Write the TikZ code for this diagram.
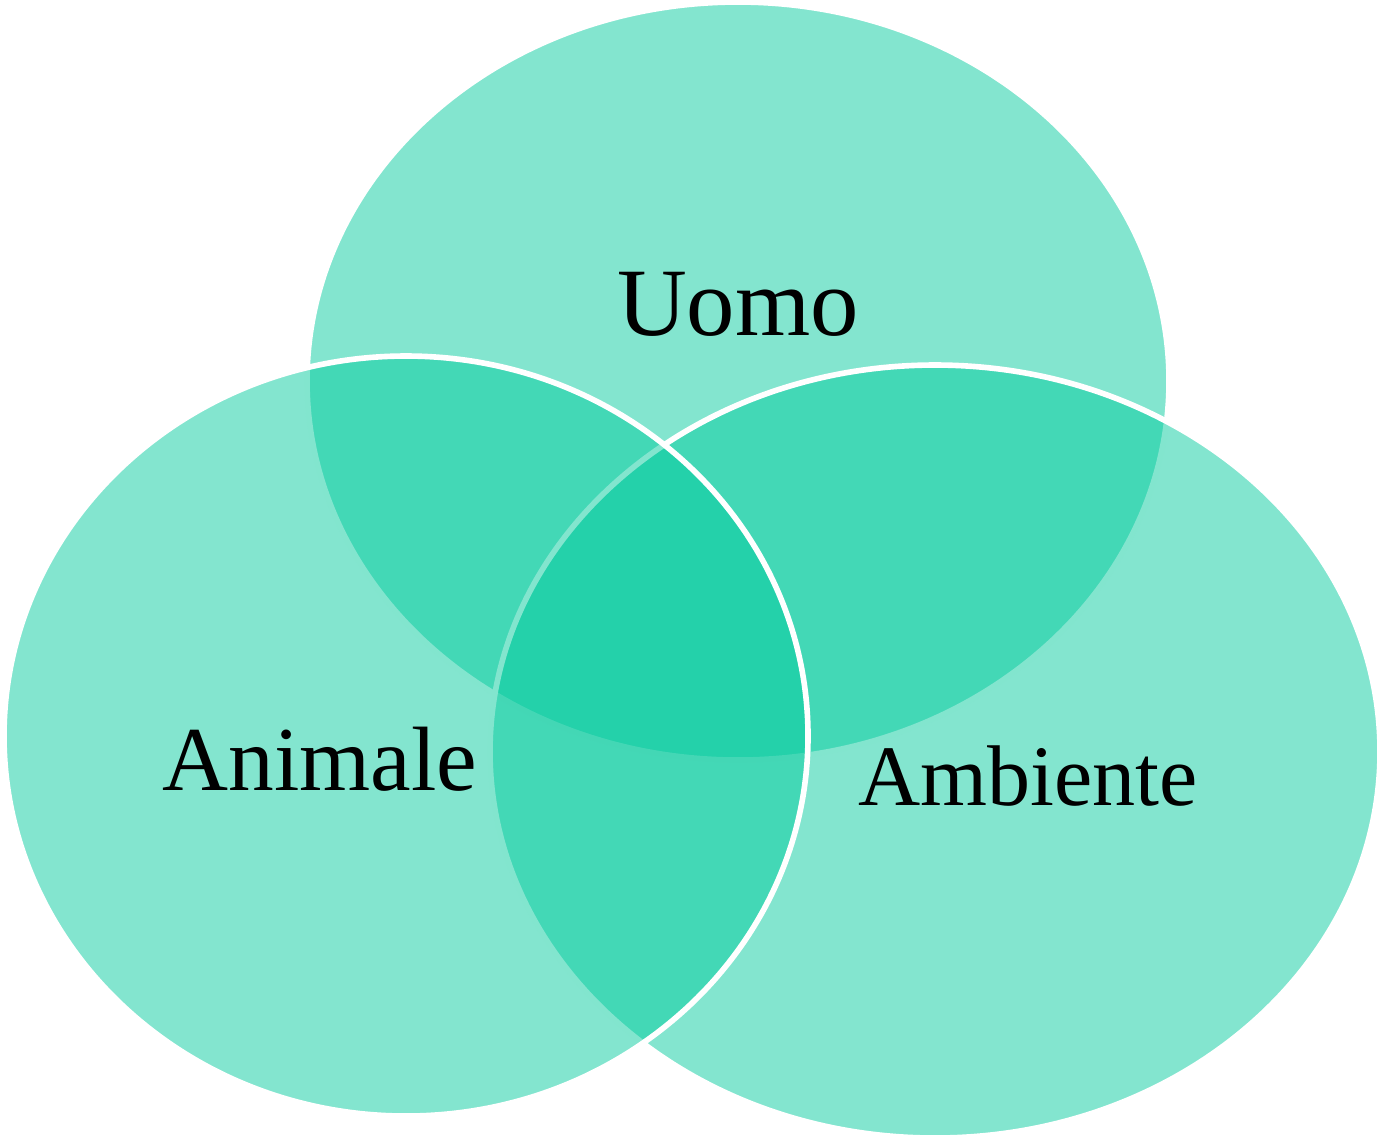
\documentclass[tikz,border=0pt]{standalone}
\usepackage{fontspec}
\setmainfont{Liberation Serif}
\usepackage{xcolor}
\usepackage{tikz}
\usetikzlibrary{shapes.geometric}
\definecolor{vert}{RGB}{2,202,157}
\tikzset{
  cercle/.style={ellipse, draw=white, line width=1.6pt, fill=vert,
    fill opacity=0.49, draw opacity=1, inner sep=0pt, outer sep=0pt},
  etiquette/.style={color=black, anchor=base}
}
\begin{document}
\begin{tikzpicture}
    \useasboundingbox (0, 0) rectangle (13.81, -11.39);
    % ordre : haut, droite, gauche
    \node[cercle, minimum width=86.2mm, minimum height=75.8mm] (uomo) at (7.38, -3.81) {};
    \node[cercle, minimum width=89.0mm, minimum height=77.3mm] (ambiente) at (9.35, -7.515) {};
    \node[cercle, minimum width=80.4mm, minimum height=76.0mm] (animale) at (4.06, -7.36) {};

    \node[etiquette, font=\fontsize{27.5}{32}\selectfont] (tuomo) at (7.38, -3.35) {Uomo};
    \node[etiquette, font=\fontsize{26}{30}\selectfont] (tanimale) at (3.20, -7.90) {Animale};
    \node[etiquette, font=\fontsize{24.5}{29}\selectfont] (tambiente) at (10.28, -8.05) {Ambiente};
  \end{tikzpicture}
\end{document}
